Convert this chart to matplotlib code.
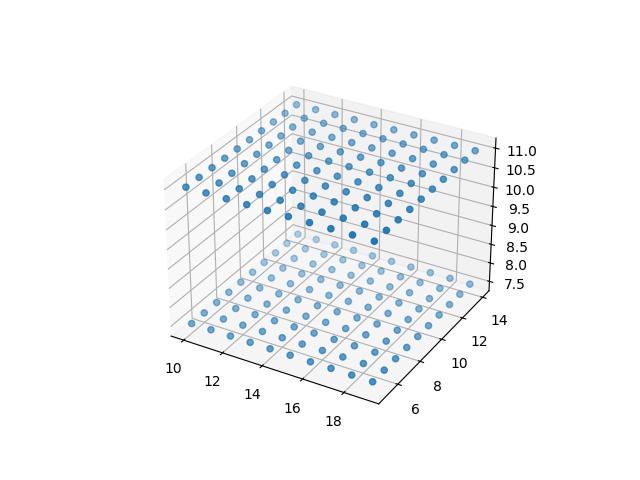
import matplotlib

matplotlib.use("Agg")
import matplotlib.pyplot as plt
import numpy as np

# Grid positions, one plane at each z level
X_VALUES = [10, 11, 12, 13, 14, 15, 16, 17, 18, 19]
Y_VALUES = [5, 6, 7, 8, 9, 10, 11, 12, 13, 14]
Z_LEVELS = [7.5, 11.0]

xx, yy = np.meshgrid(X_VALUES, Y_VALUES)

fig = plt.figure(figsize=(6.4, 4.8), dpi=100)
ax = fig.add_subplot(projection="3d")

xs = np.concatenate([xx.ravel() for _ in Z_LEVELS])
ys = np.concatenate([yy.ravel() for _ in Z_LEVELS])
zs = np.concatenate([np.full(xx.size, z) for z in Z_LEVELS])
ax.scatter(xs, ys, zs)

fig.savefig("out.png", dpi=100)
